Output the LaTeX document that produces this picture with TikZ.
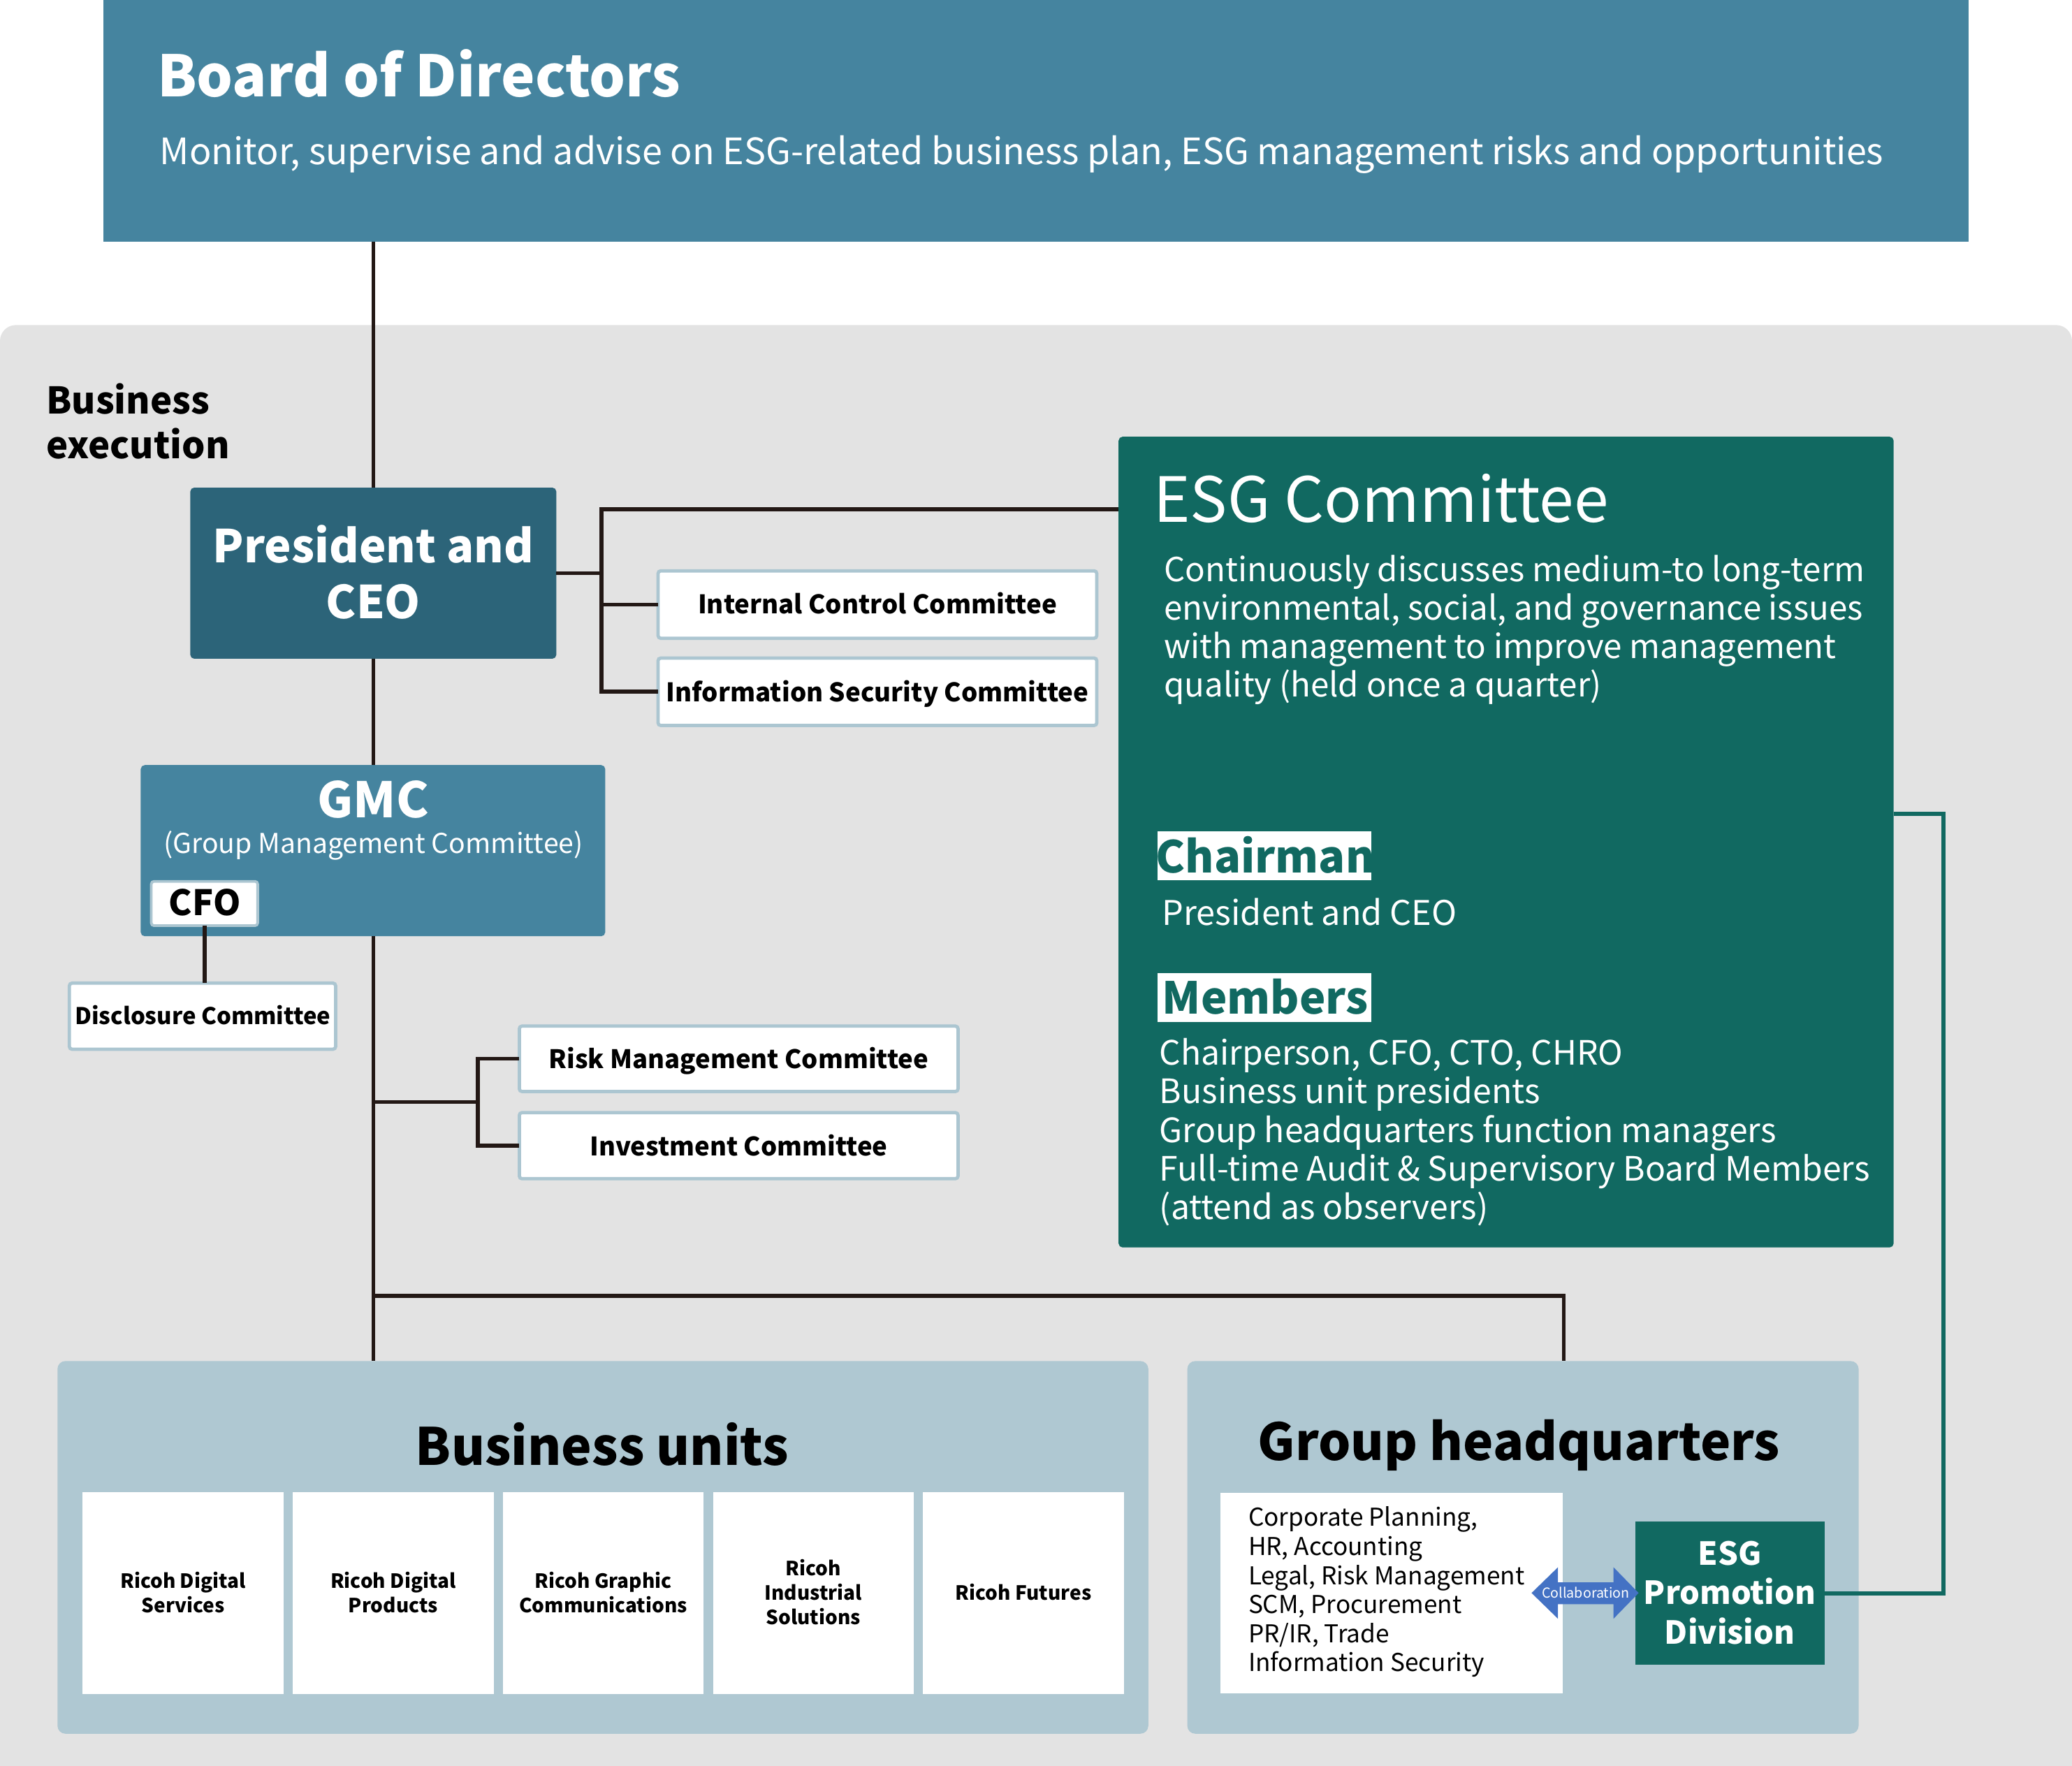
\documentclass[tikz,border=0pt]{standalone}
\usepackage{fontspec}
\setmainfont{Noto Sans CJK JP}
\definecolor{boardblue}{RGB}{69,132,159}
\definecolor{presblue}{RGB}{44,100,121}
\definecolor{esgteal}{RGB}{17,105,97}
\definecolor{bgrey}{RGB}{227,227,227}
\definecolor{paleblue}{RGB}{175,200,210}
\definecolor{linedark}{RGB}{35,24,21}
\definecolor{collabblue}{RGB}{68,114,196}
\definecolor{boxborder}{RGB}{172,198,209}
\newcommand\fsz[1]{\fontsize{#1}{#1}\selectfont}
\tikzset{
  conn/.style={draw=linedark, line width=3pt},
  tconn/.style={draw=esgteal, line width=3pt},
  blk/.style={anchor=north west, inner sep=0pt, outer sep=0pt},
  cbox/.style={blk, fill=white, draw=boxborder, line width=2.5pt, rounded corners=2pt},
  wbox/.style={blk, fill=white},
  txt/.style={inner sep=0pt, outer sep=0pt},
  wt/.style={txt, text=white},
  bt/.style={txt, text=black},
}
\begin{document}
\begin{tikzpicture}[x=1pt,y=-1pt]
\useasboundingbox (0,0) rectangle (1568,1336);
% background
\fill[bgrey, rounded corners=12pt] (0,1360) rectangle (1568,246);
% Board
\node[blk, fill=boardblue, minimum width=1412pt, minimum height=183pt] (board) at (78,0) {};
\node[wt, anchor=base west, font=\bfseries\fsz{43.2}] (boardt) at (119,73) {Board of Directors};
\node[wt, anchor=base west, font=\fsz{27.5}] (boards) at (121,124.5) {Monitor, supervise and advise on ESG-related business plan, ESG management risks and opportunities};
% Business execution
\node[bt, anchor=base west, font=\bfseries\fsz{27.8}] (bex1) at (35,313) {Business};
\node[bt, anchor=base west, font=\bfseries\fsz{27.8}] (bex2) at (35,347) {execution};
% President
\node[blk, fill=presblue, rounded corners=3pt, minimum width=277pt, minimum height=129.5pt] (pres) at (144,369) {};
\node[wt, anchor=base, font=\bfseries\fsz{34.3}] (prest1) at (282.5,426) {President and};
\node[wt, anchor=base, font=\bfseries\fsz{34.3}] (prest2) at (282.5,468) {CEO};
% committees near president
\node[cbox, minimum width=332pt, minimum height=51pt] (icc) at (498,432) {};
\node[bt, anchor=base, font=\bfseries\fsz{19.4}] (icct) at (664,464.5) {Internal Control Committee};
\node[cbox, minimum width=332pt, minimum height=51pt] (isc) at (498,498) {};
\node[bt, anchor=base, font=\bfseries\fsz{19.4}] (isct) at (664,531) {Information Security Committee};
% GMC
\node[blk, fill=boardblue, rounded corners=3pt, minimum width=351.5pt, minimum height=129.5pt] (gmc) at (106.5,579) {};
\node[wt, anchor=base, font=\bfseries\fsz{37}] (gmct) at (282.5,619) {GMC};
\node[wt, anchor=base, font=\fsz{20.7}] (gmcs) at (282.5,645.5) {(Group Management Committee)};
\node[cbox, line width=2pt, minimum width=80.5pt, minimum height=33.5pt] (cfo) at (114.5,667) {};
\node[bt, anchor=base, font=\bfseries\fsz{26.5}] (cfot) at (155,693) {CFO};
\node[cbox, minimum width=201.5pt, minimum height=50pt] (dc) at (52.5,744) {};
\node[bt, anchor=base, font=\bfseries\fsz{17.4}] (dct) at (153.5,775.5) {Disclosure Committee};
\node[cbox, minimum width=332pt, minimum height=49.5pt] (rmc) at (393,776.5) {};
\node[bt, anchor=base, font=\bfseries\fsz{19.3}] (rmct) at (559,808.5) {Risk Management Committee};
\node[cbox, minimum width=332pt, minimum height=50pt] (ivc) at (393,842) {};
\node[bt, anchor=base, font=\bfseries\fsz{19.3}] (ivct) at (559,874.5) {Investment Committee};
% ESG Committee
\node[blk, fill=esgteal, rounded corners=3pt, minimum width=586.5pt, minimum height=613.5pt] (esgc) at (846.5,330.5) {};
\node[wt, anchor=base west, font=\fsz{47.2}] (esgt) at (873,395) {ESG Committee};
\node[wt, anchor=base west, font=\fsz{25.1}] (esgd1) at (881,440) {Continuously discusses medium-to long-term};
\node[wt, anchor=base west, font=\fsz{25.1}] (esgd2) at (881,469) {environmental, social, and governance issues};
\node[wt, anchor=base west, font=\fsz{25.1}] (esgd3) at (881,498.5) {with management to improve management};
\node[wt, anchor=base west, font=\fsz{25.1}] (esgd4) at (881,527.5) {quality (held once a quarter)};
\node[wbox, minimum width=162pt, minimum height=37pt] (chb) at (876,629) {};
\node[txt, text=esgteal, anchor=base, font=\bfseries\fsz{33.3}] (cht) at (957.5,660.5) {Chairman};
\node[wt, anchor=base west, font=\fsz{25.7}] (chn) at (879.5,700) {President and CEO};
\node[wbox, minimum width=162pt, minimum height=37pt] (mbb) at (876,736.5) {};
\node[txt, text=esgteal, anchor=base, font=\bfseries\fsz{33.3}] (mbt) at (957.5,767.5) {Members};
\node[wt, anchor=base west, font=\fsz{25.4}] (mb1) at (877.5,805.7) {Chairperson, CFO, CTO, CHRO};
\node[wt, anchor=base west, font=\fsz{25.4}] (mb2) at (877.5,835.2) {Business unit presidents};
\node[wt, anchor=base west, font=\fsz{25.4}] (mb3) at (877.5,864.4) {Group headquarters function managers};
\node[wt, anchor=base west, font=\fsz{25.4}] (mb4) at (877.5,893.7) {Full-time Audit \& Supervisory Board Members};
\node[wt, anchor=base west, font=\fsz{25.4}] (mb5) at (877.5,923) {(attend as observers)};
% Business units
\node[blk, fill=paleblue, rounded corners=6pt, minimum width=825.5pt, minimum height=282pt] (bu) at (43.5,1030) {};
\node[bt, anchor=base, font=\bfseries\fsz{38.9}] (but) at (455.7,1108.6) {Business units};
\foreach \i in {0,...,4}{
  \node[wbox, minimum width=152pt, minimum height=153pt] (bu\i) at ({62.5+159*\i},1129) {};
}
\tikzset{bus/.style={bt, anchor=base, font=\bfseries\fsz{14.8}}}
\node[bus] (bu0a) at (138.5,1202) {Ricoh Digital};
\node[bus] (bu0b) at (138.5,1220.5) {Services};
\node[bus] (bu1a) at (297.5,1202) {Ricoh Digital};
\node[bus] (bu1b) at (297.5,1220.5) {Products};
\node[bus] (bu2a) at (456.5,1202) {Ricoh Graphic};
\node[bus] (bu2b) at (456.5,1220.5) {Communications};
\node[bus] (bu3a) at (615.5,1192.6) {Ricoh};
\node[bus] (bu3b) at (615.5,1211) {Industrial};
\node[bus] (bu3c) at (615.5,1229.4) {Solutions};
\node[bus] (bu4a) at (774.5,1211) {Ricoh Futures};
% Group headquarters
\node[blk, fill=paleblue, rounded corners=6pt, minimum width=508pt, minimum height=282pt] (hq) at (898.5,1030) {};
\node[bt, anchor=base west, font=\bfseries\fsz{38.6}] (hqt) at (952,1105) {Group headquarters};
\node[wbox, minimum width=259pt, minimum height=152pt] (hql) at (923.5,1129.5) {};
\tikzset{hqs/.style={bt, anchor=base west, font=\fsz{18.6}}}
\node[hqs] (hq1) at (944.7,1155) {Corporate Planning,};
\node[hqs] (hq2) at (944.7,1177) {HR, Accounting};
\node[hqs] (hq3) at (944.7,1199) {Legal, Risk Management};
\node[hqs] (hq4) at (944.7,1220.7) {SCM, Procurement};
\node[hqs] (hq5) at (944.7,1242.9) {PR/IR, Trade};
\node[hqs] (hq6) at (944.7,1264.6) {Information Security};
\node[blk, fill=esgteal, minimum width=143.5pt, minimum height=108.5pt] (epd) at (1237.5,1151.5) {};
\node[wt, anchor=base, font=\bfseries\fsz{24}] (epd1) at (1309,1184.7) {ESG};
\node[wt, anchor=base, font=\bfseries\fsz{24}] (epd2) at (1309,1214) {Promotion};
\node[wt, anchor=base, font=\bfseries\fsz{24}] (epd3) at (1309,1244) {Division};
% collaboration arrow
\fill[collabblue] (1159,1205.5) -- (1179,1186) -- (1179,1197.5) -- (1221,1197.5) -- (1221,1186) -- (1240,1205.5) -- (1221,1225) -- (1221,1214) -- (1179,1214) -- (1179,1225) -- cycle;
\node[wt, anchor=base, font=\fsz{10.4}] (collab) at (1200,1209.5) {Collaboration};
% connectors
\draw[conn] (board.south -| pres.north) -- (pres.north);
\coordinate (j1) at (455,385.5);
\draw[conn] (pres.east) -- (pres.east -| j1);
\draw[conn] (j1 -| esgc.west) -- (j1) |- (isc.west);
\draw[conn] (j1 |- icc.west) -- (icc.west);
\draw[conn] (pres.south) -- (pres.south |- gmc.north);
\draw[conn] (pres.south |- gmc.south) -- (pres.south |- bu.north);
\draw[conn] (cfo.south) -- (cfo.south |- dc.north);
\coordinate (j2) at (282.5,834);
\coordinate (j3) at (361.5,834);
\draw[conn] (j2) -- (j3);
\draw[conn] (rmc.west) -| (j3) |- (ivc.west);
\coordinate (j4) at (282.5,980.5);
\coordinate (hqin) at (1183.3,1030);
\draw[conn] (j4) -| (hqin);
\coordinate (t1) at (1470.7,616);
\draw[tconn] (t1 -| esgc.east) -- (t1) |- (epd.east);
\end{tikzpicture}
\end{document}
